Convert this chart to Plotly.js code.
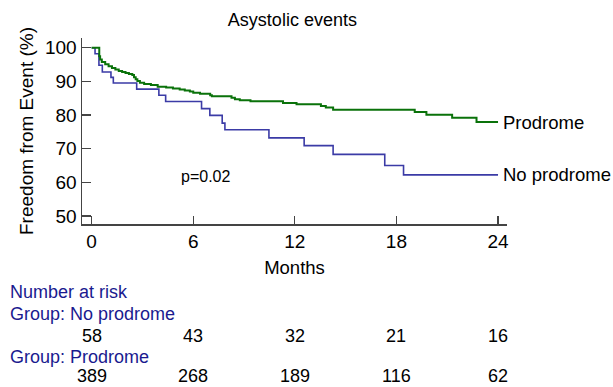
<!DOCTYPE html>
<html>
<head>
<meta charset="utf-8">
<script src="https://cdn.plot.ly/plotly-3.0.1.min.js"></script>
<style>html,body{margin:0;padding:0;background:#fff;}#chart{width:613px;height:387px;}</style>
</head>
<body>
<div id="chart"></div>
<script>
// ---- data ----
var groupNames = ["No prodrome", "Prodrome"];
var noProdromeMonths = [0, 0.2, 0.43, 0.63, 1.14, 1.28, 2.66, 3.97, 4.37, 6.49, 6.98, 7.71, 7.87, 10.47, 12.55, 14.26, 17.31, 18.42, 24];
var noProdromeSurv   = [100, 98.2, 94.8, 92.8, 91.2, 89.5, 87.7, 85.9, 84.0, 81.9, 79.9, 77.6, 75.6, 73.2, 70.9, 68.3, 65.0, 62.2, 62.2];
var prodromeMonths = [0, 0.45, 0.5, 0.6, 0.8, 1.0, 1.2, 1.4, 1.6, 1.8, 2.0, 2.2, 2.4, 2.5, 2.6, 2.7, 2.85, 3.1, 3.5, 3.9, 4.4, 4.8, 5.2, 5.5, 5.8, 6.0, 6.4, 7.0, 7.1, 8.26, 8.46, 8.75, 9.38, 11.3, 12.1, 13.54, 13.83, 14.26, 19.08, 19.77, 21.29, 22.73, 24];
var prodromeSurv   = [100, 97.5, 96.5, 95.8, 95.1, 94.5, 94.0, 93.5, 93.1, 92.8, 92.5, 92.2, 91.9, 91.2, 90.6, 90.1, 89.6, 89.2, 88.9, 88.4, 88.2, 87.9, 87.6, 87.3, 87.0, 86.6, 86.3, 85.9, 85.6, 85.1, 84.7, 84.4, 84.1, 83.6, 83.2, 82.7, 82.2, 81.6, 80.9, 80.1, 79.2, 77.9, 77.9];
var xTicks = [0, 6, 12, 18, 24];
var yTicks = [50, 60, 70, 80, 90, 100];
var riskNoProdrome = [58, 43, 32, 21, 16];
var riskProdrome   = [389, 268, 189, 116, 62];
var pValueText = "p=0.02";

// ---- layout helpers ----
var W = 613, H = 387;
var M = {l: 82, r: 106, t: 38, b: 163};
var ph = H - M.t - M.b;
function py(y) { return (H - M.b - y) / ph; }

var blue = "#3b3ba6", green = "#0a720a", navy = "#1a1a8f";
var font = "Liberation Sans, Arial, sans-serif";

var traces = [
  {x: noProdromeMonths, y: noProdromeSurv, mode: "lines", line: {shape: "hv", color: blue, width: 1.6}, name: groupNames[0], hoverinfo: "skip"},
  {x: prodromeMonths, y: prodromeSurv, mode: "lines", line: {shape: "hv", color: green, width: 2}, name: groupNames[1], hoverinfo: "skip"}
];

var ann = [];
ann.push({x: 24, y: prodromeSurv[prodromeSurv.length - 1], xref: "x", yref: "y", text: groupNames[1], showarrow: false, xanchor: "left", yanchor: "middle", xshift: 3, font: {family: font, size: 18.5, color: "#000"}});
ann.push({x: 24, y: noProdromeSurv[noProdromeSurv.length - 1], xref: "x", yref: "y", text: groupNames[0], showarrow: false, xanchor: "left", yanchor: "middle", xshift: 3, font: {family: font, size: 18.5, color: "#000"}});
ann.push({x: 6.7, y: 61.7, xref: "x", yref: "y", text: pValueText, showarrow: false, font: {family: font, size: 16, color: "#000"}});

var tableFont = {family: font, size: 18, color: navy};
var numFont = {family: font, size: 18, color: "#000"};
function leftText(txt, yPix) {
  return {x: 0, y: py(yPix), xref: "paper", yref: "paper", xshift: 8 - M.l, text: txt, showarrow: false, xanchor: "left", yanchor: "middle", font: tableFont};
}
ann.push(leftText("Number at risk", 292));
ann.push(leftText("Group: " + groupNames[0], 314));
ann.push(leftText("Group: " + groupNames[1], 357));
for (var i = 0; i < riskNoProdrome.length; i++) {
  ann.push({x: xTicks[i], y: py(336), xref: "x", yref: "paper", text: String(riskNoProdrome[i]), showarrow: false, xanchor: "center", yanchor: "middle", font: numFont});
  ann.push({x: xTicks[i], y: py(376), xref: "x", yref: "paper", text: String(riskProdrome[i]), showarrow: false, xanchor: "center", yanchor: "middle", font: numFont});
}

var layout = {
  width: W, height: H,
  margin: M,
  paper_bgcolor: "#fff", plot_bgcolor: "#fff",
  showlegend: false,
  font: {family: font, size: 16, color: "#000"},
  title: {text: "Asystolic events", x: 0.477, xanchor: "center", y: 0.95, yanchor: "middle", font: {family: font, size: 18, color: "#000"}},
  xaxis: {
    range: [-0.57, 24.53], tickvals: xTicks, ticktext: xTicks.map(String),
    showgrid: false, zeroline: false, showline: true, linecolor: "#444", linewidth: 1.5,
    ticks: "inside", ticklen: 8, tickcolor: "#444", tickwidth: 1.3,
    tickfont: {family: font, size: 19, color: "#000"},
    title: {text: "Months", font: {family: font, size: 18.5, color: "#000"}, standoff: 10}
  },
  yaxis: {
    range: [47.6, 102.9], tickvals: yTicks, ticktext: yTicks.map(String),
    showgrid: false, zeroline: false, showline: true, linecolor: "#444", linewidth: 1.5,
    ticks: "inside", ticklen: 9, tickcolor: "#444", tickwidth: 1.3,
    tickfont: {family: font, size: 19, color: "#000"},
    title: {text: "Freedom from Event (%)", font: {family: font, size: 19, color: "#000"}, standoff: 6}
  },
  annotations: ann
};

Plotly.newPlot("chart", traces, layout, {displayModeBar: false, staticPlot: true});
</script>
</body>
</html>
